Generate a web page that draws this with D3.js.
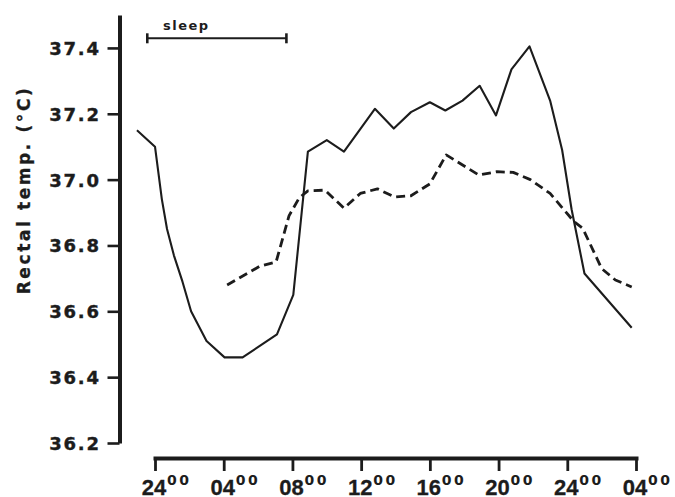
<!DOCTYPE html>
<html>
<head>
<meta charset="utf-8">
<script src="https://cdn.jsdelivr.net/npm/d3@7"></script>
<style>
  html, body { margin: 0; padding: 0; background: #fff; }
  svg { display: block; }
</style>
</head>
<body>
<svg id="chart" width="675" height="497"></svg>
<script>
// ---- data (hours from midnight of night 1; temperatures in °C) ----
const solidHours = [-1.05, 0, 0.4, 0.7, 1.1, 1.6, 2.1, 3.0, 4.05, 5.1, 6.1, 7.1, 8.05, 8.9, 10.0, 11.0, 12.8, 13.9, 14.9, 16.0, 16.9, 17.9, 18.9, 19.85, 20.75, 21.8, 23.0, 23.7, 24.25, 25.0, 27.75];
const solidTemps = [37.15, 37.10, 36.94, 36.85, 36.77, 36.69, 36.60, 36.51, 36.46, 36.46, 36.495, 36.53, 36.65, 37.085, 37.12, 37.085, 37.215, 37.155, 37.205, 37.235, 37.21, 37.24, 37.285, 37.195, 37.335, 37.405, 37.24, 37.09, 36.91, 36.715, 36.55];

const dashedHours = [4.2, 6.1, 7.05, 7.8, 8.4, 8.9, 9.9, 11.0, 11.95, 12.95, 13.95, 14.9, 16.0, 16.95, 18.85, 19.9, 20.85, 21.85, 23.0, 24.4, 24.9, 26.0, 26.8, 27.75];
const dashedTemps = [36.68, 36.737, 36.75, 36.89, 36.945, 36.966, 36.968, 36.913, 36.958, 36.972, 36.947, 36.951, 36.987, 37.075, 37.014, 37.024, 37.022, 37.0, 36.958, 36.872, 36.852, 36.73, 36.695, 36.674];

const xTickValues = [0, 4, 8, 12, 16, 20, 24, 28];
const xTickLabels = ["24", "04", "08", "12", "16", "20", "24", "04"];
const xTickSup = "00";
const yTickValues = [36.2, 36.4, 36.6, 36.8, 37.0, 37.2, 37.4];
const yTitle = "Rectal temp. (\u00B0C)";
const sleepLabel = "sleep";
const sleepRange = [-0.45, 7.65];

// ---- scales ----
const svg = d3.select("#chart");
const ink = "#1c1c1c";
const x = d3.scaleLinear().domain([0, 28]).range([155, 636]);
const y = d3.scaleLinear().domain([36.2, 37.5]).range([443, 15]);

// ---- y axis ----
const yAxisX = 119.5;
const yAxis = d3.axisLeft(y).tickValues(yTickValues).tickSize(12).tickSizeOuter(0).tickFormat(d3.format(".1f"));
const gy = svg.append("g").attr("transform", `translate(${yAxisX},0)`).call(yAxis);
gy.select(".domain").attr("stroke", ink).attr("stroke-width", 4);
gy.selectAll(".tick line").attr("stroke", ink).attr("stroke-width", 2.6);
gy.selectAll(".tick text")
  .attr("x", -18.7)
  .attr("dy", "0.36em")
  .attr("fill", ink)
  .attr("stroke", ink)
  .attr("stroke-width", 0.4)
  .style("font-family", "'DejaVu Sans', sans-serif")
  .style("font-weight", "bold")
  .style("font-size", "18px")
  .style("letter-spacing", "1.8px");

// ---- x axis ----
const xAxisY = 458;
const xAxis = d3.axisBottom(x).tickValues(xTickValues).tickSize(13).tickSizeOuter(0).tickFormat((d, i) => xTickLabels[i]);
const gx = svg.append("g").attr("transform", `translate(0,${xAxisY})`).call(xAxis);
gx.select(".domain").attr("stroke", ink).attr("stroke-width", 4).attr("stroke-linecap", "square");
gx.selectAll(".tick line").attr("stroke", ink).attr("stroke-width", 2.8);
gx.selectAll(".tick text")
  .attr("y", 0)
  .attr("dy", 0)
  .attr("x", -1.5)
  .attr("transform", "translate(0,37)")
  .attr("fill", ink)
  .attr("stroke", ink)
  .attr("stroke-width", 0.3)
  .style("font-family", "'Liberation Sans', Arial, sans-serif")
  .style("font-weight", "bold")
  .style("font-size", "22px");
gx.selectAll(".tick").append("text")
  .attr("x", 11.5)
  .attr("y", 27)
  .attr("text-anchor", "start")
  .attr("fill", ink)
  .style("font-family", "'DejaVu Sans', sans-serif")
  .style("font-weight", "bold")
  .style("font-size", "14px")
  .style("letter-spacing", "2.5px")
  .text(xTickSup);

// ---- y title ----
svg.append("text")
  .attr("transform", "translate(30,190) rotate(-90)")
  .attr("text-anchor", "middle")
  .attr("fill", ink)
  .attr("stroke", ink)
  .attr("stroke-width", 0.3)
  .style("font-family", "'DejaVu Sans', sans-serif")
  .style("font-weight", "bold")
  .style("font-size", "17px")
  .style("letter-spacing", "2.6px")
  .text(yTitle);

// ---- sleep bar ----
const sleepY = 38.3;
const sg = svg.append("g").attr("stroke", ink).attr("stroke-width", 2);
sg.append("line").attr("x1", x(sleepRange[0])).attr("x2", x(sleepRange[1])).attr("y1", sleepY).attr("y2", sleepY);
sleepRange.forEach(h => {
  sg.append("line").attr("x1", x(h)).attr("x2", x(h)).attr("y1", sleepY - 5).attr("y2", sleepY + 5).attr("stroke-width", 2.6);
});
svg.append("text")
  .attr("x", 163)
  .attr("y", 30)
  .attr("fill", ink)
  .style("font-family", "'DejaVu Sans', sans-serif")
  .style("font-weight", "bold")
  .style("font-size", "13px")
  .style("letter-spacing", "1.5px")
  .text(sleepLabel);

// ---- lines ----
const line = d3.line().x(d => x(d[0])).y(d => y(d[1]));
svg.append("path")
  .datum(solidHours.map((h, i) => [h, solidTemps[i]]))
  .attr("fill", "none")
  .attr("stroke", ink)
  .attr("stroke-width", 2.1)
  .attr("stroke-linejoin", "round")
  .attr("d", line);
svg.append("path")
  .datum(dashedHours.map((h, i) => [h, dashedTemps[i]]))
  .attr("fill", "none")
  .attr("stroke", ink)
  .attr("stroke-width", 2.8)
  .attr("stroke-dasharray", "9,5")
  .attr("stroke-linejoin", "round")
  .attr("d", line);
</script>
</body>
</html>
